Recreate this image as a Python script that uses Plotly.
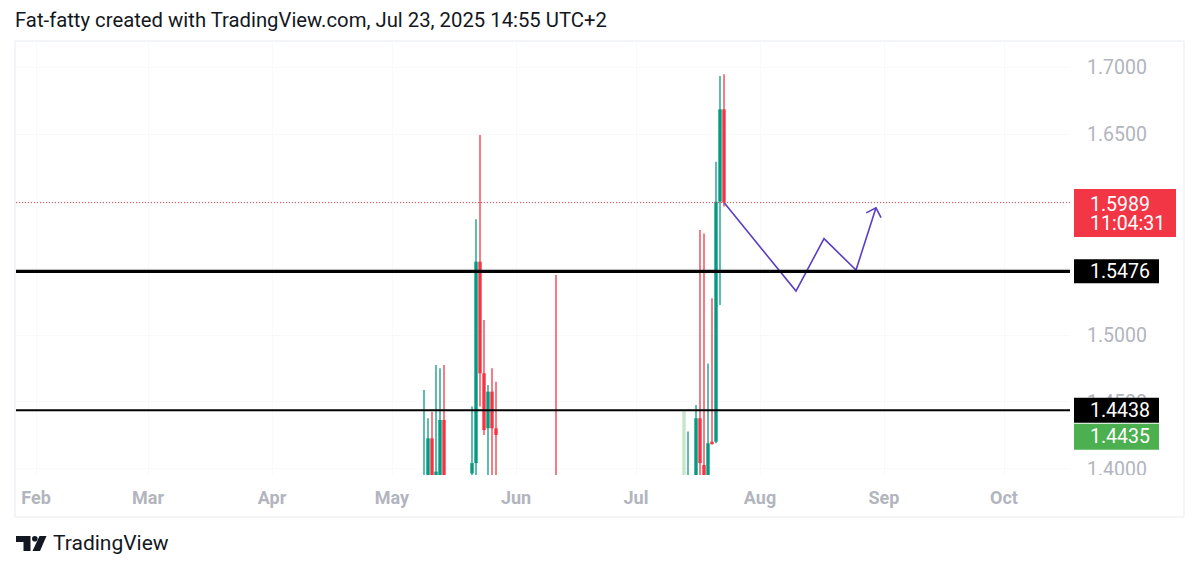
import math
import pandas as pd
import plotly.graph_objects as go

# ---------------- data ----------------
candle_dates = ["2025-05-09", "2025-05-10", "2025-05-11", "2025-05-12", "2025-05-13", "2025-05-14",
                "2025-05-21", "2025-05-22", "2025-05-23", "2025-05-24", "2025-05-25", "2025-05-26",
                "2025-05-27", "2025-06-11", "2025-07-14", "2025-07-16", "2025-07-17", "2025-07-18",
                "2025-07-19", "2025-07-20", "2025-07-21", "2025-07-22", "2025-07-23"]
candle_open = [1.3880, 1.3900, 1.4228, 1.3900, 1.3900, 1.4365,
               1.3966, 1.4043, 1.5548, 1.4714, 1.4303, 1.4577,
               1.4303, 1.3920, 1.3880, 1.3900, 1.4378, 1.4029,
               1.3900, 1.4203, 1.4203, 1.5996, 1.6686]
candle_high = [1.4590, 1.4378, 1.4427, 1.4776, 1.4751, 1.4776,
               1.4465, 1.5865, 1.6494, 1.5112, 1.4627, 1.4751,
               1.4651, 1.5448, 1.4279, 1.4478, 1.5784, 1.5759,
               1.4788, 1.5274, 1.6294, 1.6935, 1.6948]
candle_low = [1.3800, 1.3800, 1.3800, 1.3800, 1.3800, 1.3800,
              1.3800, 1.3900, 1.4465, 1.4253, 1.3800, 1.3800,
              1.3800, 1.3800, 1.3800, 1.3800, 1.3900, 1.3800,
              1.3800, 1.4180, 1.4191, 1.5224, 1.5960]
candle_close = [1.3940, 1.4228, 1.3900, 1.3980, 1.4365, 1.3900,
                1.4043, 1.5548, 1.4714, 1.4290, 1.4577, 1.4303,
                1.4253, 1.3880, 1.3920, 1.4378, 1.4043, 1.3900,
                1.4191, 1.4191, 1.5996, 1.6686, 1.5989]

faded_dates = ["2025-07-13"]
faded_open = [1.3880]
faded_high = [1.4428]
faded_low = [1.3800]
faded_close = [1.4428]

path_dates = ["2025-07-23", "2025-08-10", "2025-08-17", "2025-08-25", "2025-08-30"]
path_prices = [1.5989, 1.5328, 1.5720, 1.5485, 1.5950]

level_thick = 1.5476
level_thin = 1.4438
last_price = 1.5989
countdown = "11:04:31"
bid_price = 1.4435

month_ticks = ["2025-02-01", "2025-03-01", "2025-04-01", "2025-05-01", "2025-06-01",
               "2025-07-01", "2025-08-01", "2025-09-01", "2025-10-01"]
month_labels = ["Feb", "Mar", "Apr", "May", "Jun", "Jul", "Aug", "Sep", "Oct"]
price_ticks = [1.40, 1.45, 1.50, 1.55, 1.60, 1.65, 1.70]
price_labels = [f"{v:.4f}" for v in price_ticks]

header = "Fat-fatty created with TradingView.com, Jul 23, 2025 14:55 UTC+2"

# ---------------- geometry ----------------
W, H = 1200, 572
PL, PT, PW, PH = 16, 42, 1054, 433
X0 = pd.Timestamp("2025-01-27")
X1 = pd.Timestamp("2025-10-17 12:00")
Y0, Y1 = 1.39542, 1.71887
DAY_MS = 86400000

GREEN = "#089981"
RED = "#f23645"
FADED = "#c6e6cc"
PURPLE = "#5b3cc4"
FONT = "Roboto"


def to_px(d, p):
    fx = (pd.Timestamp(d) - X0) / (X1 - X0)
    return PL + fx * PW, PT + (Y1 - p) / (Y1 - Y0) * PH


def from_px(px, py):
    d = X0 + (px - PL) / PW * (X1 - X0)
    p = Y1 - (py - PT) / PH * (Y1 - Y0)
    return d, p


def pxx(px):
    return (px - PL) / PW


def pxy(py):
    return (PT + PH - py) / PH


fig = go.Figure()


def add_candles(dates, o, h, l, c, color, rising):
    sel = [i for i in range(len(dates)) if (c[i] >= o[i]) == rising]
    if not sel:
        return
    wx, wy = [], []
    for i in sel:
        wx += [dates[i], dates[i], None]
        wy += [l[i], h[i], None]
    fig.add_trace(go.Scatter(x=wx, y=wy, mode="lines", line=dict(color=color, width=1.3),
                             hoverinfo="skip"))
    fig.add_trace(go.Bar(x=[dates[i] for i in sel],
                         y=[max(abs(c[i] - o[i]), 0.0004) for i in sel],
                         base=[min(o[i], c[i]) for i in sel],
                         width=0.85 * DAY_MS, marker=dict(color=color, line=dict(width=0)),
                         hoverinfo="skip"))


add_candles(faded_dates, faded_open, faded_high, faded_low, faded_close, FADED, True)
add_candles(candle_dates, candle_open, candle_high, candle_low, candle_close, GREEN, True)
add_candles(candle_dates, candle_open, candle_high, candle_low, candle_close, RED, False)

# projected path
fig.add_trace(go.Scatter(x=path_dates, y=path_prices, mode="lines",
                         line=dict(color=PURPLE, width=1.6), hoverinfo="skip"))

# arrow head computed from last segment direction
tx, ty = to_px(path_dates[-1], path_prices[-1])
sx, sy = to_px(path_dates[-2], path_prices[-2])
L = math.hypot(sx - tx, sy - ty)
ux, uy = (sx - tx) / L, (sy - ty) / L
arm = 11.0
ax_pts = []
for ang in (math.radians(45), math.radians(-45)):
    rx = ux * math.cos(ang) - uy * math.sin(ang)
    ry = ux * math.sin(ang) + uy * math.cos(ang)
    ax_pts.append(from_px(tx + rx * arm, ty + ry * arm))
head_x = [ax_pts[0][0], pd.Timestamp(path_dates[-1]), ax_pts[1][0]]
head_y = [ax_pts[0][1], path_prices[-1], ax_pts[1][1]]
fig.add_trace(go.Scatter(x=head_x, y=head_y, mode="lines",
                         line=dict(color=PURPLE, width=1.6), hoverinfo="skip"))

shapes = []
# frame
shapes.append(dict(type="rect", xref="paper", yref="paper", x0=pxx(15), x1=pxx(1184),
                   y0=pxy(41), y1=pxy(517), line=dict(color="#e9ebf0", width=1),
                   fillcolor="rgba(0,0,0,0)", layer="below"))
# horizontal levels
shapes.append(dict(type="line", xref="paper", yref="y", x0=0, x1=1, y0=last_price, y1=last_price,
                   line=dict(color=RED, width=1, dash="1px,2px"), layer="above"))
shapes.append(dict(type="line", xref="paper", yref="y", x0=0, x1=1, y0=level_thick, y1=level_thick,
                   line=dict(color="#000000", width=3.2), layer="above"))
shapes.append(dict(type="line", xref="paper", yref="y", x0=0, x1=1, y0=level_thin, y1=level_thin,
                   line=dict(color="#000000", width=1.8), layer="above"))
# clip bottom of the price scale
shapes.append(dict(type="rect", xref="paper", yref="paper", x0=pxx(1071), x1=pxx(1182),
                   y0=pxy(475), y1=pxy(489), line=dict(width=0), fillcolor="white", layer="above"))
# price label boxes
bx0, bx1 = pxx(1074), pxx(1159)
shapes.append(dict(type="rect", xref="paper", yref="y", ysizemode="pixel", yanchor=last_price,
                   x0=bx0, x1=pxx(1176), y0=-34.5, y1=13.5, line=dict(width=0), fillcolor=RED,
                   layer="above"))
shapes.append(dict(type="rect", xref="paper", yref="y", ysizemode="pixel", yanchor=level_thick,
                   x0=bx0, x1=bx1, y0=-12, y1=12, line=dict(width=0), fillcolor="#000000",
                   layer="above"))
shapes.append(dict(type="rect", xref="paper", yref="y", ysizemode="pixel", yanchor=level_thin,
                   x0=bx0, x1=bx1, y0=-12.5, y1=12.5, line=dict(width=0), fillcolor="#000000",
                   layer="above"))
shapes.append(dict(type="rect", xref="paper", yref="y", ysizemode="pixel", yanchor=bid_price,
                   x0=bx0, x1=bx1, y0=-39, y1=-13, line=dict(width=0), fillcolor="#4caf50",
                   layer="above"))

# TradingView logo
def P(px, py):
    return f"{pxx(px):.5f},{pxy(py):.5f}"

logo_T = f"M{P(16,536)} L{P(30.5,536)} L{P(30.5,551)} L{P(23.5,551)} L{P(23.5,542)} L{P(16,542)} Z"
logo_S = f"M{P(39.5,536)} L{P(46.5,536)} L{P(40,551)} L{P(32.5,551)} Z"
shapes.append(dict(type="path", xref="paper", yref="paper", path=logo_T,
                   fillcolor="#131722", line=dict(width=0)))
shapes.append(dict(type="path", xref="paper", yref="paper", path=logo_S,
                   fillcolor="#131722", line=dict(width=0)))
shapes.append(dict(type="circle", xref="paper", yref="paper", x0=pxx(32), x1=pxx(37.6),
                   y0=pxy(541.6), y1=pxy(536), fillcolor="#131722", line=dict(width=0)))

lab_font = dict(family=FONT, size=19.5, color="white")
tx_lab = pxx(1088)
annotations = [
    dict(text=header, xref="paper", yref="paper", x=pxx(13), y=pxy(20), xanchor="left",
         yanchor="middle", showarrow=False, font=dict(family=FONT, size=20.3, color="#131722")),
    dict(text="TradingView", xref="paper", yref="paper", x=pxx(51), y=pxy(543), xanchor="left",
         yanchor="middle", showarrow=False, font=dict(family=FONT, size=21, color="#131722")),
    dict(text=f"{last_price:.4f}", xref="paper", yref="y", x=tx_lab, y=last_price, yshift=-1.5,
         xanchor="left", yanchor="middle", showarrow=False, font=lab_font),
    dict(text=countdown, xref="paper", yref="y", x=tx_lab, y=last_price, yshift=-20.5,
         xanchor="left", yanchor="middle", showarrow=False, font=lab_font),
    dict(text=f"{level_thick:.4f}", xref="paper", yref="y", x=tx_lab, y=level_thick,
         xanchor="left", yanchor="middle", showarrow=False, font=lab_font),
    dict(text=f"{level_thin:.4f}", xref="paper", yref="y", x=tx_lab, y=level_thin,
         xanchor="left", yanchor="middle", showarrow=False, font=lab_font),
    dict(text=f"{bid_price:.4f}", xref="paper", yref="y", x=tx_lab, y=bid_price, yshift=-26,
         xanchor="left", yanchor="middle", showarrow=False, font=lab_font),
]

fig.update_layout(
    width=W, height=H,
    margin=dict(l=PL, r=W - PL - PW, t=PT, b=H - PT - PH),
    paper_bgcolor="white", plot_bgcolor="rgba(0,0,0,0)",
    showlegend=False, barmode="overlay",
    shapes=shapes, annotations=annotations,
    xaxis=dict(type="date", range=[X0, X1],
               tickmode="array", tickvals=month_ticks, ticktext=month_labels,
               showgrid=True, gridcolor="#f8f9fa", gridwidth=1, zeroline=False, showline=False,
               ticks="", ticklabelstandoff=10,
               tickfont=dict(family=FONT, size=18, color="#b2b5be", weight="bold")),
    yaxis=dict(side="right", range=[Y0, Y1], tickmode="array", tickvals=price_ticks,
               ticktext=price_labels, showgrid=True, gridcolor="#f8f9fa", gridwidth=1,
               zeroline=False, showline=False, ticks="", ticklabelstandoff=16,
               tickfont=dict(family=FONT, size=19.5, color="#b2b5be")),
)

fig.write_html("out.html", config={"displayModeBar": False},
               post_script="document.body.style.margin='0';document.body.style.overflow='hidden';")
